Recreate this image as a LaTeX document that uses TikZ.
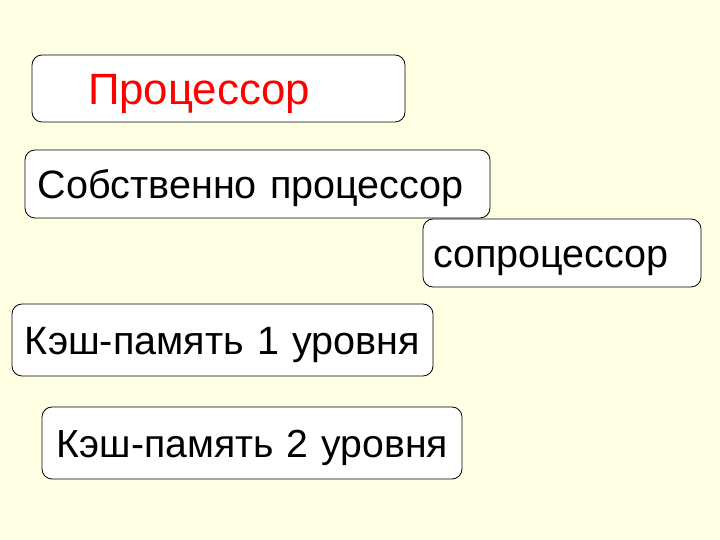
\documentclass[tikz,border=0pt]{standalone}
\usepackage{fontspec}
\setmainfont{Liberation Sans}
\definecolor{bgyellow}{RGB}{255,255,228}
\begin{document}
\begin{tikzpicture}[x=1bp,y=1bp,
		box/.style={draw=black, line width=0.8bp, fill=white, rounded corners=10bp, align=left, inner ysep=0bp, text height=28.4bp, text depth=0bp, font=\fontsize{39.7}{46}\selectfont,
			execute at begin node={\leavevmode\hbox\bgroup}, execute at end node={\egroup}}]
			\fill[bgyellow] (0,0) rectangle (720,540);
			\node (Pr) at (218.5,451.5) [box, text=red, font=\fontsize{44}{50}\selectfont, text height=32bp, minimum height=67bp, inner xsep=56bp, text width=261bp] {Процессор};
			\node (Sp) at (257.5,356) [box, minimum height=68bp, inner xsep=13bp, text width=439bp] {Собственно процессор};
			\node (Co) at (562,287) [box, minimum height=68bp, inner xsep=10bp, text width=258bp] {сопроцессор};
			\node (Ka) at (222.5,200) [box, minimum height=72bp, inner xsep=13bp, text width=395bp] {Кэш-память 1 уровня};
			\node (Kb) at (252,97) [box, font=\fontsize{39.3}{46}\selectfont, minimum height=72bp, inner xsep=15bp, text width=390bp] {Кэш-память 2 уровня};
		\end{tikzpicture}
\end{document}
